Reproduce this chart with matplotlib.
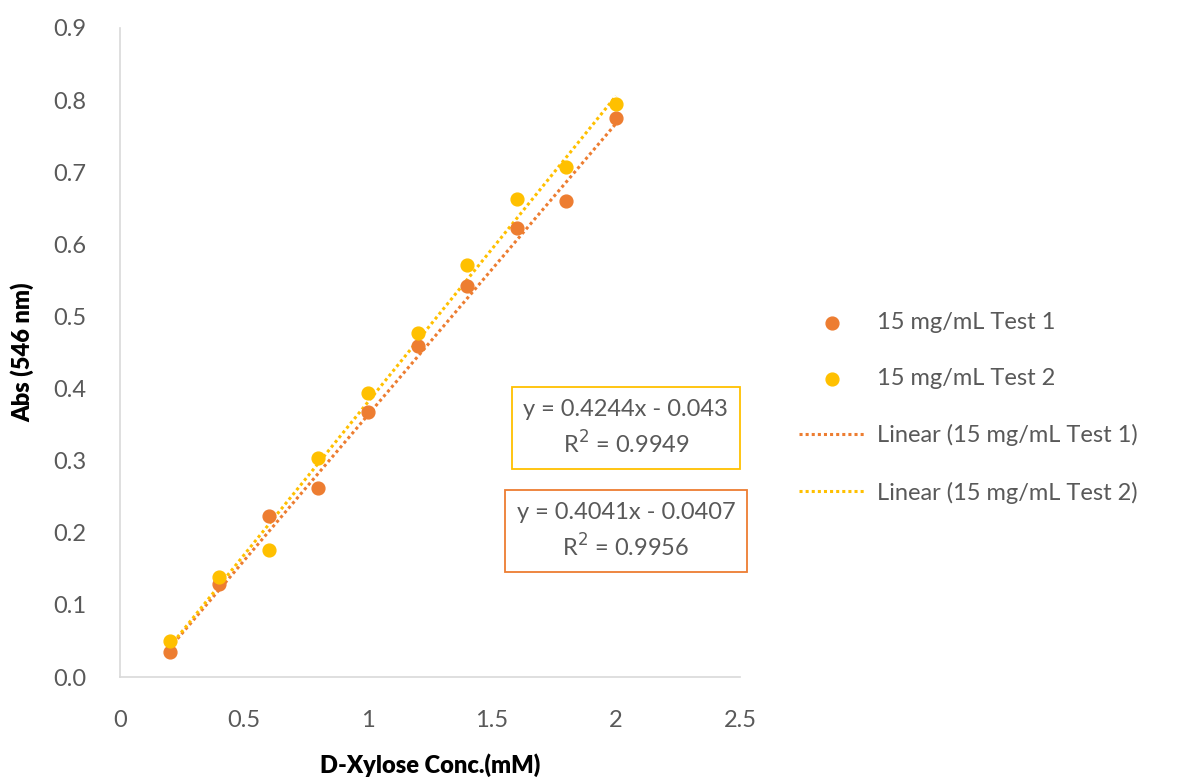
import matplotlib.pyplot as plt
import numpy as np

# data
conc = [0.2, 0.4, 0.6, 0.8, 1.0, 1.2, 1.4, 1.6, 1.8, 2.0]
abs_test1 = [0.035, 0.129, 0.223, 0.262, 0.368, 0.459, 0.542, 0.623, 0.660, 0.775]
abs_test2 = [0.050, 0.139, 0.176, 0.304, 0.394, 0.477, 0.571, 0.663, 0.707, 0.795]

# trendline coefficients as printed on the chart
fit1 = (0.4041, -0.0407, 0.9956)
fit2 = (0.4244, -0.043, 0.9949)

labels = ["15 mg/mL Test 1", "15 mg/mL Test 2"]
c1 = "#ED7D31"
c2 = "#FFC000"
grey = "#595959"

plt.rcParams['font.family'] = ['Lato', 'DejaVu Sans']

fig = plt.figure(figsize=(11.82, 7.78), dpi=100)
ax = fig.add_axes([120/1182, 1-677/778, 620/1182, 649/778])

x = np.array(conc)
ax.scatter(conc, abs_test1, s=85, color=c1, zorder=3, label=labels[0])
ax.scatter(conc, abs_test2, s=85, color=c2, zorder=3, label=labels[1])
ax.plot(x, fit1[0]*x + fit1[1], ls=(0, (1, 1)), lw=2.2, color=c1, zorder=2,
        label="Linear (" + labels[0] + ")")
ax.plot(x, fit2[0]*x + fit2[1], ls=(0, (1, 1)), lw=2.2, color=c2, zorder=2,
        label="Linear (" + labels[1] + ")")

ax.set_xlim(0, 2.5)
ax.set_ylim(0, 0.9)
ax.set_xticks([0, 0.5, 1, 1.5, 2, 2.5])
ax.set_xticklabels(["0", "0.5", "1", "1.5", "2", "2.5"])
ax.set_yticks(np.arange(0, 0.91, 0.1))
ax.set_yticklabels(["%.1f" % v for v in np.arange(0, 0.91, 0.1)])
ax.tick_params(length=0, labelsize=17, colors=grey)
ax.tick_params(axis="x", pad=24)
ax.tick_params(axis="y", pad=24)
for s in ["top", "right"]:
    ax.spines[s].set_visible(False)
for s in ["left", "bottom"]:
    ax.spines[s].set_color("#D9D9D9")
    ax.spines[s].set_linewidth(1.2)

ax.set_xlabel("D-Xylose Conc.(mM)", fontsize=17, fontweight="heavy", labelpad=16)
ax.set_ylabel("Abs (546 nm)", fontsize=17, fontweight="heavy", labelpad=14)

# equation boxes
ax.text(2.04, 0.345, "y = %.4fx - %.3f\nR$^2$ = %.4f" % (fit2[0], -fit2[1], fit2[2]),
        ha="center", va="center", fontsize=17, color=grey, linespacing=1.45,
        bbox=dict(boxstyle="square,pad=0.5", fc="white", ec=c2, lw=1.3))
ax.text(2.04, 0.2025, "y = %.4fx - %.4f\nR$^2$ = %.4f" % (fit1[0], -fit1[1], fit1[2]),
        ha="center", va="center", fontsize=17, color=grey, linespacing=1.45,
        bbox=dict(boxstyle="square,pad=0.5", fc="white", ec=c1, lw=1.3))

fig.legend(loc="center left", bbox_to_anchor=(778/1182, 1-408/778), frameon=False,
           fontsize=17, labelcolor=grey, labelspacing=1.48, handlelength=2.8,
           handletextpad=0.5)

fig.savefig("out.png", dpi=100)
